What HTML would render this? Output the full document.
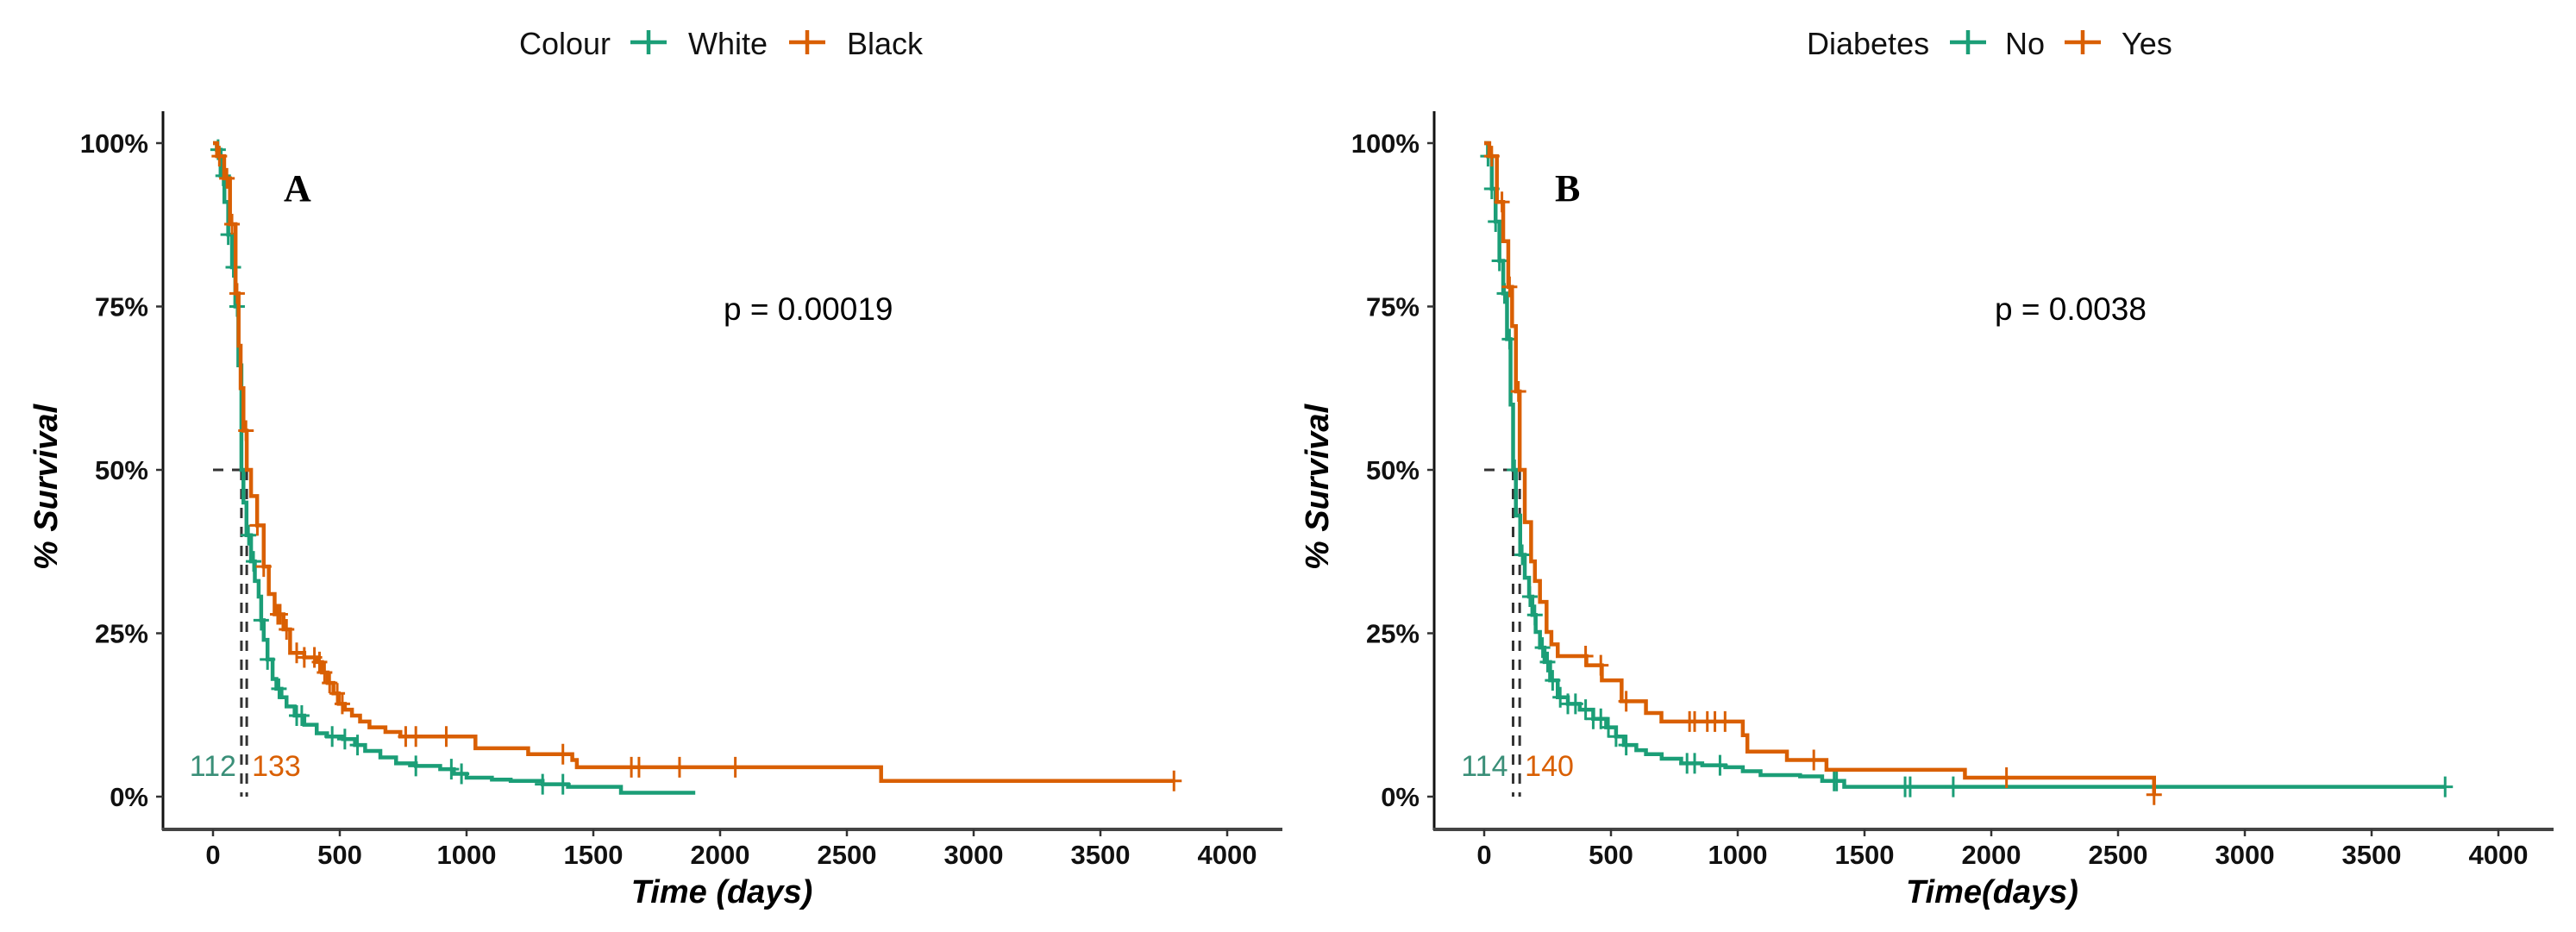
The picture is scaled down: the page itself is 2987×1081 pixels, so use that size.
<!DOCTYPE html>
<html><head><meta charset="utf-8"><style>
html,body{margin:0;padding:0;background:#fff;}
svg{display:block;font-family:"Liberation Sans",Arial,sans-serif;}
</style></head><body>
<svg id="chart" width="2987" height="1081" viewBox="0 0 2987 1081" xmlns="http://www.w3.org/2000/svg">
<rect width="2987" height="1081" fill="#fff"/>
</svg>
<script>
// ---- Panel A: Colour ----
const aWhiteTime = [0, 15, 30, 45, 60, 75, 88, 100, 112, 120, 132, 150, 165, 180, 190, 200, 215, 235, 250, 270, 290, 322, 360, 409, 450, 513, 560, 600, 660, 722, 800, 896, 950, 1000, 1100, 1174, 1300, 1400, 1609, 1902];
const aWhiteSurv = [100, 99, 95, 91, 86, 81, 75, 66, 50, 45, 40, 36, 33, 30.6, 27, 24, 21, 18, 16.5, 15.2, 13.8, 12.4, 11, 9.7, 9.2, 8.8, 7.9, 7.0, 6.0, 5.1, 4.7, 4.2, 3.5, 2.9, 2.6, 2.4, 1.9, 1.5, 0.6, 0.6];
const aBlackTime = [0, 16, 44, 67, 89, 101, 109, 120, 133, 150, 174, 200, 220, 243, 278, 304, 360, 409, 430, 452, 475, 496, 520, 548, 580, 617, 680, 739, 1035, 1243, 1417, 1435, 2635, 3790];
const aBlackSurv = [100, 98, 94.6, 87.6, 77, 69, 62.5, 56, 50, 46, 41.5, 35.2, 31, 27.9, 25.6, 22, 21.3, 20.6, 19, 17.4, 15.8, 14.2, 13.3, 12.4, 11.5, 10.6, 9.9, 9.2, 7.4, 6.5, 5.6, 4.5, 2.4, 2.4];
const aWhiteCens = [20, 40, 60, 80, 95, 140, 160, 190, 215, 260, 330, 350, 470, 520, 570, 800, 940, 980, 1300, 1380];
const aBlackCens = [25, 55, 75, 95, 130, 175, 200, 255, 265, 290, 330, 360, 400, 420, 440, 460, 490, 510, 760, 800, 920, 1380, 1650, 1680, 1840, 2060, 3790];
const aMedians = [112, 133];
const aP = "p = 0.00019";

// ---- Panel B: Diabetes ----
const bNoTime = [0, 15, 30, 45, 60, 75, 90, 104, 114, 125, 142, 160, 177, 190, 203, 220, 238, 260, 290, 330, 377, 430, 481, 520, 551, 600, 638, 700, 777, 860, 951, 1020, 1090, 1246, 1333, 1420, 3790];
const bNoSurv = [100, 98, 93, 88, 82, 77, 70, 60, 50, 43, 37, 33.5, 30.6, 27.8, 25.2, 22.8, 20.6, 17.8, 15.2, 14.2, 13.3, 11.9, 10.6, 9.2, 7.9, 7.1, 6.5, 5.8, 5.1, 4.8, 4.5, 3.9, 3.3, 3.1, 2.4, 1.5, 1.5];
const bYesTime = [0, 20, 50, 75, 95, 110, 125, 140, 160, 185, 200, 220, 246, 265, 290, 342, 403, 464, 542, 638, 699, 1020, 1038, 1194, 1350, 1896, 2642];
const bYesSurv = [100, 98, 91, 85, 78, 72, 62, 50, 42, 36, 33, 29.8, 25.2, 23.3, 21.5, 21.5, 20.1, 17.8, 14.6, 12.8, 11.5, 9.4, 6.9, 5.6, 4.1, 2.9, 0.3];
const bNoCens = [15, 30, 45, 60, 80, 100, 120, 150, 180, 200, 230, 250, 270, 300, 330, 360, 400, 430, 460, 490, 520, 560, 800, 830, 930, 1380, 1390, 1660, 1680, 1850, 3790];
const bYesCens = [30, 70, 100, 135, 400, 460, 560, 810, 830, 880, 910, 950, 1300, 2060, 2642];
const bMedians = [114, 140];
const bP = "p = 0.0038";

const xTicks = [0, 500, 1000, 1500, 2000, 2500, 3000, 3500, 4000];
const yTicks = [0, 25, 50, 75, 100];
const yTickLabels = ["0%", "25%", "50%", "75%", "100%"];

const GREEN = "#1b9e77", ORANGE = "#d95f02";
const svg = document.getElementById("chart");
const NS = "http://www.w3.org/2000/svg";
function mk(tag, attrs, parent) {
  const e = document.createElementNS(NS, tag);
  for (const k in attrs) e.setAttribute(k, attrs[k]);
  (parent || svg).appendChild(e);
  return e;
}

function panel(off, cfg) {
  const g = mk("g", {});
  
  
  const xs = d => off + 247 + d * 147 / 500;
  const ys = v => 924 - v * 7.58;
  const ya = mk("line", {x1: off + 189, y1: 129, x2: off + 189, y2: 963, stroke: "#111", "stroke-width": 3}, g);
  
  
  const xa = mk("line", {x1: off + 188, y1: 962, x2: off + 1487, y2: 962, stroke: "#444", "stroke-width": 4}, g);
  
  
  yTicks.forEach((v, i) => {
    mk("line", {x1: off + 181, y1: ys(v), x2: off + 189, y2: ys(v), stroke: "#333", "stroke-width": 2.5}, g);
    const t = mk("text", {x: off + 172, y: ys(v) + 11, "text-anchor": "end", "font-size": 31, "font-weight": "bold", fill: "#111"}, g);
    t.textContent = yTickLabels[i];
    
    
  });
  xTicks.forEach(v => {
    mk("line", {x1: xs(v), y1: 962, x2: xs(v), y2: 970, stroke: "#333", "stroke-width": 2.5}, g);
    const t = mk("text", {x: xs(v), y: 1002, "text-anchor": "middle", "font-size": 31, "font-weight": "bold", fill: "#111"}, g);
    t.textContent = String(v);
    
    
  });
  const xt = mk("text", {x: off + cfg.xtX, y: 1047, "text-anchor": "middle", "font-size": 38, "font-weight": "bold", "font-style": "italic", fill: "#000"}, g);
  xt.textContent = cfg.xTitle;
  
  
  const yt = mk("text", {x: 0, y: 0, transform: `translate(${off + cfg.ytX},565) rotate(-90)`, "text-anchor": "middle", "font-size": 38, "font-weight": "bold", "font-style": "italic", fill: "#000"}, g);
  yt.textContent = "% Survival";
  
  
  const mline = mk("path", {d: `M${xs(0)},${ys(50)}H${xs(Math.max(...cfg.medians))}`, stroke: "#333", "stroke-width": 3, "stroke-dasharray": "12,10", fill: "none"}, g);
  
  
  cfg.medians.forEach((m, i) => {
    const v = mk("path", {d: `M${xs(m)},${ys(50)}V${ys(0)}`, stroke: "#333", "stroke-width": 3, "stroke-dasharray": "12,10", fill: "none"}, g);
    
    
    const lt = mk("text", {x: xs(m) + (i === 0 ? -6 : 6), y: 900, "text-anchor": i === 0 ? "end" : "start", "font-size": 34, fill: i === 0 ? "#3a8f78" : ORANGE}, g);
    lt.textContent = String(m);
    
    
  });
  function stepVal(times, surv, t) {
    let v = surv[0];
    for (let i = 0; i < times.length; i++) if (times[i] <= t) v = surv[i];
    return v;
  }
  cfg.series.forEach(s => {
    let d = `M${xs(s.t[0])},${ys(s.s[0])}`;
    for (let i = 1; i < s.t.length; i++) {
      d += `H${xs(s.t[i])}V${ys(s.s[i])}`;
    }
    const p = mk("path", {d: d, stroke: s.c, "stroke-width": 4.5, fill: "none", "stroke-linejoin": "miter"}, g);
    
    
    s.cens.forEach(ct => {
      const cx = xs(ct), cy = ys(stepVal(s.t, s.s, ct));
      const m = mk("path", {d: `M${cx - 9},${cy}H${cx + 9}M${cx},${cy - 12}V${cy + 12}`, stroke: s.c, "stroke-width": 3, fill: "none"}, g);
      
      
    });
  });
  const pt = mk("text", {x: off + 839, y: 371, "font-size": 37, fill: "#000"}, g);
  pt.textContent = cfg.p;
  
  
  const lt = mk("text", {x: off + 329, y: 233, "font-size": 44, "font-weight": "bold", "font-family": "Liberation Serif, serif", fill: "#000"}, g);
  lt.textContent = cfg.letter;
  
  
  const lg = mk("g", {}, g);
  
  
  const L = cfg.legend;
  const lt0 = mk("text", {x: L.titleX, y: 63, "font-size": 36, fill: "#111"}, lg);
  lt0.textContent = L.title;
  
  
  L.items.forEach(it => {
    const k = mk("path", {d: `M${it.kx - 21},49H${it.kx + 21}M${it.kx},35V63`, stroke: it.c, "stroke-width": 4.5, fill: "none"}, lg);
    
    
    const tx = mk("text", {x: it.tx, y: 63, "font-size": 36, fill: "#111"}, lg);
    tx.textContent = it.label;
    
    
  });
}

panel(0, {
  name: "panel-a-colour", xTitle: "Time (days)", xtX: 837, ytX: 66, medians: aMedians, p: aP, letter: "A",
  series: [
    {t: aWhiteTime, s: aWhiteSurv, cens: aWhiteCens, c: GREEN, name: "white"},
    {t: aBlackTime, s: aBlackSurv, cens: aBlackCens, c: ORANGE, name: "black"}
  ],
  legend: {title: "Colour", titleX: 602, items: [
    {kx: 752, tx: 798, label: "White", c: GREEN},
    {kx: 936, tx: 982, label: "Black", c: ORANGE}
  ]}
});
panel(1474, {
  name: "panel-b-diabetes", xTitle: "Time(days)", xtX: 836, ytX: 66, medians: bMedians, p: bP, letter: "B",
  series: [
    {t: bNoTime, s: bNoSurv, cens: bNoCens, c: GREEN, name: "no-diabetes"},
    {t: bYesTime, s: bYesSurv, cens: bYesCens, c: ORANGE, name: "yes-diabetes"}
  ],
  legend: {title: "Diabetes", titleX: 2095, items: [
    {kx: 2282, tx: 2325, label: "No", c: GREEN},
    {kx: 2415, tx: 2460, label: "Yes", c: ORANGE}
  ]}
});
</script>
</body></html>
